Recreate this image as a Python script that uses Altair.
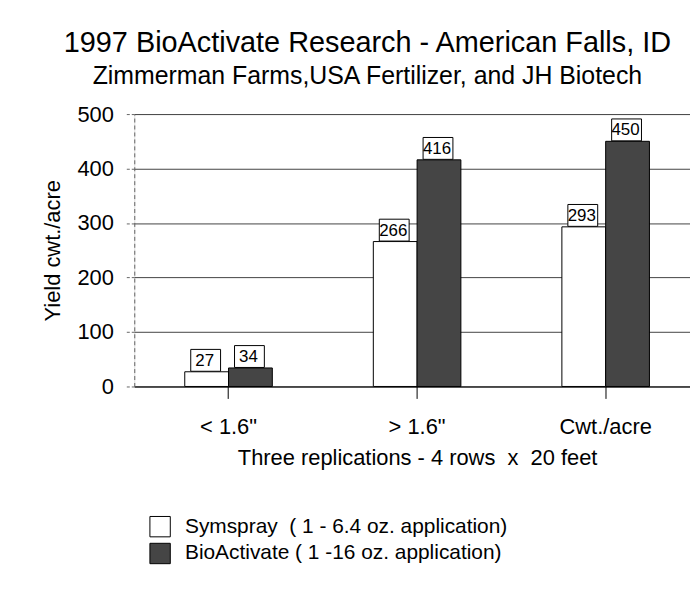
import altair as alt
import pandas as pd

categories = ['< 1.6"', '> 1.6"', 'Cwt./acre']
series = ["Symspray\u00a0 ( 1 - 6.4 oz. application)", "BioActivate ( 1 -16 oz. application)"]
symspray = [27, 266, 293]
bioactivate = [34, 416, 450]
y_ticks = [0, 100, 200, 300, 400, 500]

rows = []
for c, a, b in zip(categories, symspray, bioactivate):
    rows.append({"cat": c, "series": series[0], "value": a})
    rows.append({"cat": c, "series": series[1], "value": b})
df = pd.DataFrame(rows)

FONT = "Liberation Sans"

x_enc = alt.X(
    "cat:N", sort=categories,
    scale=alt.Scale(paddingInner=0.5356, paddingOuter=0.2678),
    axis=alt.Axis(
        title="Three replications - 4 rows\u00a0 x\u00a0 20 feet",
        labelAngle=0, labelFont=FONT, labelFontSize=22, labelColor="black",
        labelPadding=18, tickSize=12, tickColor="black", domainColor="black",
        titleFont=FONT, titleFontSize=22, titleFontWeight="normal", titleColor="black",
        titlePadding=10, grid=False,
    ),
)
xo_enc = alt.XOffset("series:N", sort=series, scale=alt.Scale(paddingInner=0, paddingOuter=0))
y_enc = alt.Y(
    "value:Q",
    scale=alt.Scale(domain=[0, 500], nice=False),
    axis=alt.Axis(
        values=y_ticks, title="Yield cwt./acre",
        labelFont=FONT, labelFontSize=22, labelColor="black", labelPadding=13,
        tickSize=8, tickColor="#666", tickDash=[3, 2],
        domainColor="#666", domainDash=[4, 3],
        grid=True, gridColor="#444", gridWidth=1,
        titleFont=FONT, titleFontSize=22, titleFontWeight="normal", titleColor="black",
        titlePadding=12,
    ),
)

bars = alt.Chart(df).mark_bar(stroke="black", strokeWidth=1).encode(
    x=x_enc, xOffset=xo_enc, y=y_enc,
    color=alt.Color(
        "series:N", sort=series,
        scale=alt.Scale(domain=series, range=["white", "#454545"]),
        legend=alt.Legend(
            title=None, orient="none", legendX=15, legendY=404,
            symbolType="square", symbolSize=420, symbolStrokeColor="black",
            symbolStrokeWidth=1, labelFont=FONT, labelFontSize=21,
            labelColor="black", labelOffset=14, rowPadding=1, labelLimit=600,
        ),
    ),
)

box_path = "M-1.6,-2.25L1.4,-2.25L1.4,-0.05L-1.6,-0.05Z"
boxes = alt.Chart(df).mark_point(
    shape=box_path, size=400, filled=True, fill="white", stroke="black",
    strokeWidth=1, opacity=1,
).encode(x=alt.X("cat:N", sort=categories), xOffset=xo_enc, y=alt.Y("value:Q"))

labels = alt.Chart(df).mark_text(
    font=FONT, fontSize=17, dx=-2, dy=-11, baseline="middle", align="center", color="black"
).encode(x=alt.X("cat:N", sort=categories), xOffset=xo_enc, y=alt.Y("value:Q"), text="value:Q")

chart = alt.layer(bars, boxes, labels).properties(
    width=569, height=274,
    autosize=alt.AutoSizeParams(type="none"),
    padding={"left": 127, "top": 105, "right": -10, "bottom": 200},
    title=alt.TitleParams(
        text="1997 BioActivate Research - American Falls, ID",
        subtitle="Zimmerman Farms,USA Fertilizer, and JH Biotech",
        font=FONT, fontSize=29, fontWeight="normal", color="black",
        subtitleFont=FONT, subtitleFontSize=25, subtitleColor="black",
        subtitlePadding=6, anchor="middle", frame="group", dx=-50, offset=14,
    ),
).configure_view(stroke=None).configure(background="white")

chart.save("out.html", embed_options={"renderer": "svg", "actions": False})
